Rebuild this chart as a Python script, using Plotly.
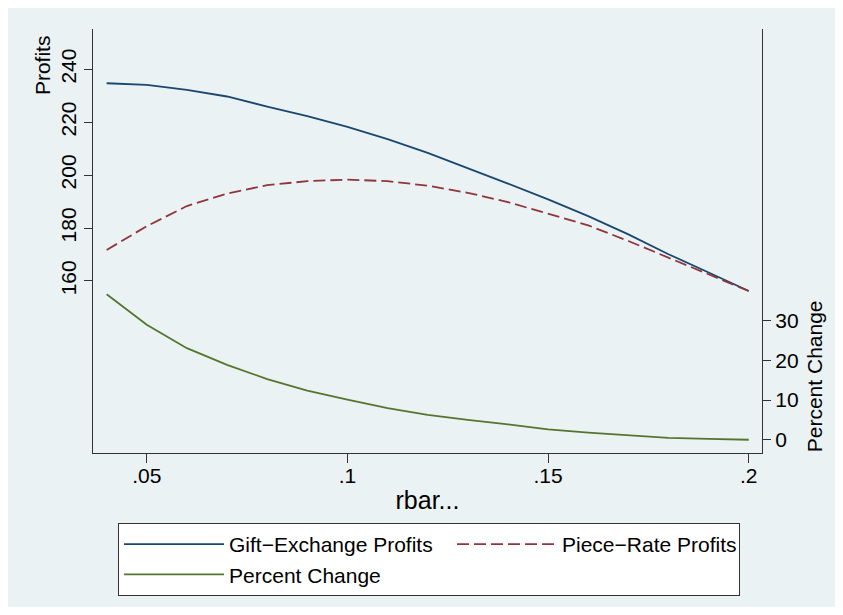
import plotly.graph_objects as go

rbar = [0.04, 0.05, 0.06, 0.07, 0.08, 0.09, 0.10, 0.11, 0.12, 0.13, 0.14,
        0.15, 0.16, 0.17, 0.18, 0.19, 0.20]
gift_exchange = [234.7, 234.1, 232.2, 229.7, 225.9, 222.3, 218.2, 213.6, 208.4,
                 202.7, 196.8, 190.8, 184.5, 177.6, 170.1, 163.2, 156.2]
piece_rate = [171.7, 180.7, 188.3, 193.0, 196.2, 197.7, 198.3, 197.7, 196.0,
              193.3, 189.8, 185.5, 181.0, 175.1, 168.8, 162.5, 156.2]
percent_change = [36.7, 29.0, 23.1, 18.9, 15.3, 12.4, 10.1, 8.0, 6.3,
                  5.0, 3.9, 2.6, 1.8, 1.1, 0.5, 0.2, 0.0]

x_ticks = [0.05, 0.10, 0.15, 0.20]
x_tick_labels = [".05", ".1", ".15", ".2"]
left_ticks = [160, 180, 200, 220, 240]
right_ticks = [0, 10, 20, 30]

FONT = "Liberation Sans, Arial, Helvetica, sans-serif"
FS = 21
BG = "#EAF2F3"
AXIS = "#333333"

fig = go.Figure()
fig.add_trace(go.Scatter(x=rbar, y=gift_exchange, mode="lines",
                         name="Gift\u2212Exchange Profits",
                         line=dict(color="#1A476F", width=1.8),
                         legendwidth=218))
fig.add_trace(go.Scatter(x=rbar, y=piece_rate, mode="lines",
                         name="Piece\u2212Rate Profits",
                         line=dict(color="#90353B", width=1.8, dash="12px,5px"),
                         legendwidth=172))
fig.add_trace(go.Scatter(x=rbar, y=percent_change, mode="lines",
                         name="Percent Change", yaxis="y2",
                         line=dict(color="#55752F", width=1.8),
                         legendwidth=160))

fig.update_layout(
    width=827, height=599,
    margin=dict(l=85, r=73, t=21, b=153),
    paper_bgcolor="white",
    plot_bgcolor="white",
    font=dict(family=FONT, size=FS, color="black"),
    xaxis=dict(range=[0.0366, 0.2033], tickvals=x_ticks, ticktext=x_tick_labels,
               showgrid=False, zeroline=False, showline=True, linecolor=AXIS,
               linewidth=1.2, ticks="outside", ticklen=9, tickcolor=AXIS,
               ticklabelstandoff=-5,
               title=dict(text="rbar...", standoff=5)),
    yaxis=dict(range=[95, 255.2], tickvals=left_ticks, tickangle=-90,
               showgrid=True, gridcolor=BG, gridwidth=1.5, zeroline=False,
               showline=True, linecolor=AXIS, linewidth=1.2, ticks="outside",
               ticklen=8, tickcolor=AXIS),
    yaxis2=dict(range=[-3.34, 103.6], tickvals=right_ticks, overlaying="y",
                side="right", showgrid=False, zeroline=False, showline=True,
                linecolor=AXIS, linewidth=1.2, ticks="outside", ticklen=8,
                tickcolor=AXIS),
    showlegend=True,
    legend=dict(orientation="h", x=0.0374, y=-0.1624, xanchor="left",
                yanchor="top", bgcolor="white", bordercolor=AXIS, borderwidth=1,
                itemwidth=100, font=dict(size=FS), tracegroupgap=0),
    shapes=[dict(type="rect", xref="paper", yref="paper", x0=-0.13, x1=1.13,
                 y0=-0.39, y1=1.052, fillcolor=BG, line=dict(width=0),
                 layer="below")],
    annotations=[
        dict(text="Profits", xref="paper", yref="paper", x=-0.0762, y=0.915,
             textangle=-90, showarrow=False, xanchor="center", yanchor="middle",
             font=dict(size=FS)),
        dict(text="Percent Change", xref="paper", yref="paper", x=1.0777,
             y=0.181, textangle=-90, showarrow=False, xanchor="center",
             yanchor="middle", font=dict(size=FS)),
    ],
)

fig.write_html("out.html")
